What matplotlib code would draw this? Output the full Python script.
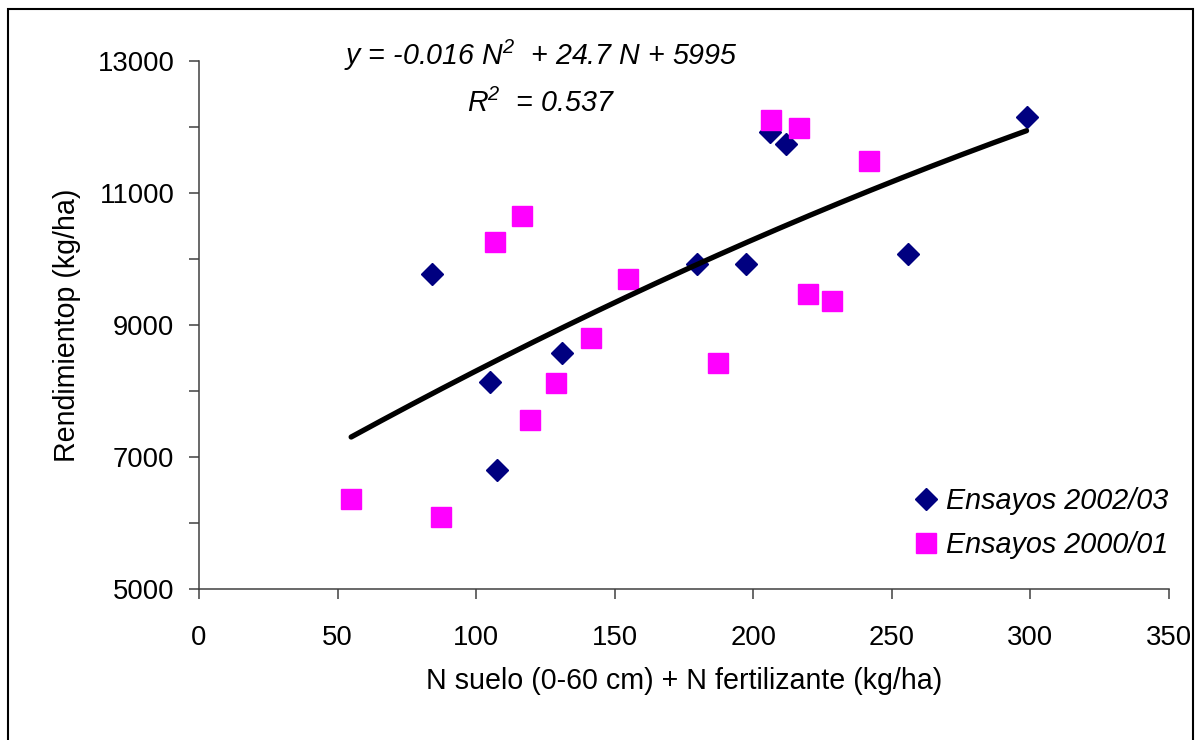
import numpy as np
import matplotlib
matplotlib.use("Agg")
import matplotlib.pyplot as plt
from matplotlib.lines import Line2D
from matplotlib.patches import Rectangle

plt.rcParams['font.family'] = ['Liberation Sans', 'DejaVu Sans']
plt.rcParams['mathtext.default'] = 'regular'

# Ensayos 2002/03
n_0203 = [84.2, 104.9, 107.7, 131.0, 179.7, 197.5, 206.0, 211.7, 255.7, 298.6]
rend_0203 = [9773, 8136, 6798, 8580, 9924, 9924, 11929, 11738, 10071, 12147]

# Ensayos 2000/01
n_0001 = [54.9, 87.4, 106.7, 116.5, 119.3, 128.7, 141.3, 154.7, 187.3, 206.3, 216.4, 219.9, 228.3, 241.8]
rend_0001 = [6364, 6095, 10258, 10652, 7561, 8117, 8808, 9697, 8420, 12106, 11989, 9465, 9368, 11485]

# trend line coefficients (as printed on the chart)
trend_coef = [-0.016, 24.7, 5995]
r2 = 0.537

x_ticks = [0, 50, 100, 150, 200, 250, 300, 350]
y_ticks = [5000, 7000, 9000, 11000, 13000]

navy = '#000080'
magenta = '#FF00FF'
fs = 20.6

fig = plt.figure(figsize=(12.02, 7.40), dpi=100)
ax = fig.add_axes([199 / 1202, 1 - 589 / 740, (1169 - 199) / 1202, (589 - 61) / 740])

ax.plot(n_0203, rend_0203, linestyle='none', marker='D', ms=11.2, color=navy, mec=navy, zorder=2)
ax.plot(n_0001, rend_0001, linestyle='none', marker='s', ms=14.4, color=magenta, mec=magenta, zorder=3)

# polynomial trend line over the range of all data
n_all = n_0203 + n_0001
xt = np.linspace(min(n_all), max(n_all), 200)
ax.plot(xt, np.polyval(trend_coef, xt), color='black', lw=3.8, solid_capstyle='round', zorder=4)

ax.set_xlim(0, 350)
ax.set_ylim(5000, 13000)
ax.set_xticks(x_ticks)
ax.set_yticks(y_ticks)
ax.set_yticks([6000, 8000, 10000, 12000], minor=True)

for s in ['top', 'right']:
    ax.spines[s].set_visible(False)
for s in ['left', 'bottom']:
    ax.spines[s].set_color('#404040')
    ax.spines[s].set_linewidth(1.1)

ax.tick_params(axis='both', which='both', direction='out', length=7.2, width=1.1, color='#404040', labelsize=19.8)
ax.tick_params(axis='x', pad=18.5)
ax.tick_params(axis='y', pad=10.5)

ax.set_xlabel("N suelo (0-60 cm) + N fertilizante (kg/ha)", fontsize=fs, labelpad=12)
ax.set_ylabel("Rendimientop (kg/ha)", fontsize=fs, labelpad=12)

eq = "y = %.3f $N^{2}$  + %.1f N + %d" % (trend_coef[0], trend_coef[1], trend_coef[2])
fig.text(541 / 1202, 1 - 65 / 740, eq, fontsize=fs, style='italic', ha='center', va='baseline')
fig.text(541 / 1202, 1 - 112 / 740, "$R^{2}$  = %.3f" % r2, fontsize=fs, style='italic', ha='center', va='baseline')

handles = [
    Line2D([], [], linestyle='none', marker='D', ms=11.2, color=navy),
    Line2D([], [], linestyle='none', marker='s', ms=14.4, color=magenta),
]
ax.legend(handles, ["Ensayos 2002/03", "Ensayos 2000/01"], loc='upper left',
          bbox_to_anchor=(897 / 1202, 1 - 473 / 740), bbox_transform=fig.transFigure,
          frameon=False, borderpad=0, handlelength=1.0, handletextpad=0.2,
          labelspacing=0.55, prop={'size': 20.7, 'style': 'italic'})

# outer chart frame
fig.add_artist(Rectangle((7.5 / 1202, -0.05), (1193 - 7.5) / 1202, 1.05 - 9.5 / 740,
                         transform=fig.transFigure, fill=False, lw=1.5, ec='black', clip_on=False))

fig.savefig("out.png", dpi=100)
